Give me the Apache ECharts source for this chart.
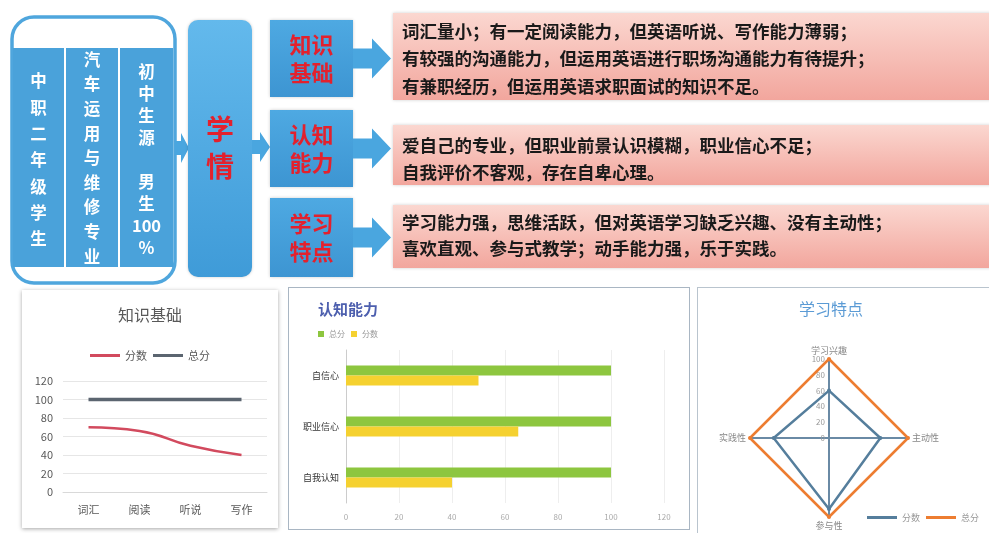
<!DOCTYPE html>
<html><head><meta charset="utf-8">
<script src="https://cdn.jsdelivr.net/npm/echarts@6/dist/echarts.min.js"></script>
<style>
html,body{margin:0;padding:0;background:#fff;width:989px;height:533px;overflow:hidden;}
#bg{position:absolute;left:0;top:0;width:989px;height:533px;}
#c1{position:absolute;left:22px;top:290px;width:256px;height:238px;box-shadow:0 1px 4px rgba(0,0,0,0.35);background:#fff;}
#c2{position:absolute;left:288px;top:287px;width:400px;height:241px;border:1px solid #a9b6c3;background:#fff;}
#c3{position:absolute;left:697px;top:287px;width:292px;height:246px;border-left:1px solid #b9c4ce;border-top:1px solid #b9c4ce;background:#fff;}
</style></head><body>
<div id="bg"></div><div id="c1"></div><div id="c2"></div><div id="c3"></div>
<script>
// ---- data ----
const profileColumns = ['中\n职\n二\n年\n级\n学\n生', '汽\n车\n运\n用\n与\n维\n修\n专\n业', '初\n中\n生\n源\n\n男\n生\n100\n%'];
const centerLabel = '学\n情';
const aspectLabels = ['知识\n基础', '认知\n能力', '学习\n特点'];
const aspectTexts = [
  '词汇量小；有一定阅读能力，但英语听说、写作能力薄弱；\n有较强的沟通能力，但运用英语进行职场沟通能力有待提升；\n有兼职经历，但运用英语求职面试的知识不足。',
  '爱自己的专业，但职业前景认识模糊，职业信心不足；\n自我评价不客观，存在自卑心理。',
  '学习能力强，思维活跃，但对英语学习缺乏兴趣、没有主动性；\n喜欢直观、参与式教学；动手能力强，乐于实践。'
];

const skillCategories = ['词汇', '阅读', '听说', '写作'];
const skillScores = [70, 66, 50, 40];
const skillTotals = [100, 100, 100, 100];

const cognitionCategories = ['自我认知', '职业信心', '自信心'];
const cognitionTotals = [100, 100, 100];
const cognitionScores = [40, 65, 50];

const learningIndicators = ['学习兴趣', '实践性', '参与性', '主动性'];
const learningScores = [60, 70, 90, 65];
const learningTotals = [100, 100, 100, 100];

const FONT = '"Noto Sans CJK SC", "Noto Sans", sans-serif';

// ---- top diagram ----
function vgrad(a, b) {
  return new echarts.graphic.LinearGradient(0, 0, 0, 1, [{offset: 0, color: a}, {offset: 1, color: b}]);
}
function arrow(x0, xh, x1, c, bh, hh) {
  return {type: 'polygon', shape: {points: [[x0, c - bh], [xh, c - bh], [xh, c - hh], [x1, c], [xh, c + hh], [xh, c + bh], [x0, c + bh]]},
    style: {fill: '#4aa6df'}};
}
const g = [];
g.push({type: 'rect', shape: {x: 12, y: 17, width: 163, height: 266, r: 22}, style: {fill: '#fff', stroke: '#4fa6dd', lineWidth: 3.5}});
const colX = [[13, 64], [66, 118], [120, 173]];
const colLH = [26.3, 24.6, 22];
const colC = [160, 158, 160];
profileColumns.forEach((t, i) => {
  g.push({type: 'rect', shape: {x: colX[i][0], y: 48, width: colX[i][1] - colX[i][0], height: 219}, style: {fill: '#4aa2da'}});
  g.push({type: 'text', style: {text: t, x: (colX[i][0] + colX[i][1]) / 2, y: colC[i], fill: '#fff', fontSize: 16.5, fontWeight: 'bold', fontFamily: FONT,
    align: 'center', verticalAlign: 'middle', lineHeight: colLH[i]}});
});
g.push(arrow(175, 181, 189, 148, 7, 15));
g.push({type: 'rect', shape: {x: 188, y: 20, width: 64, height: 257, r: 10}, style: {fill: vgrad('#63b9ec', '#3f9bd8'), shadowBlur: 3, shadowColor: 'rgba(0,0,0,0.2)'}});
g.push({type: 'text', style: {text: centerLabel, x: 220, y: 148, fill: '#e3212d', fontSize: 28, fontWeight: 'bold', fontFamily: FONT,
  align: 'center', verticalAlign: 'middle', lineHeight: 37}});
g.push(arrow(252, 260, 270, 147, 7, 15));
const boxY = [[20, 97], [110, 187], [198, 277]];
const panelY = [[13, 100], [125, 185], [205, 268]];
const textC = [58.5, 158.5, 235];
const textLH = [27.5, 27, 26];
aspectLabels.forEach((t, i) => {
  const [y0, y1] = boxY[i];
  const c = (y0 + y1) / 2;
  g.push({type: 'rect', shape: {x: 393, y: panelY[i][0], width: 600, height: panelY[i][1] - panelY[i][0]},
    style: {fill: vgrad('#fbd7d0', '#f2a69d'), shadowBlur: 3, shadowColor: 'rgba(0,0,0,0.2)'}});
  g.push({type: 'text', style: {text: aspectTexts[i], x: 402, y: textC[i], fill: '#1a1a1a', fontSize: 17.5, fontWeight: 'bold', fontFamily: FONT,
    align: 'left', verticalAlign: 'middle', lineHeight: textLH[i]}});
  g.push({type: 'rect', shape: {x: 270, y: y0, width: 83, height: y1 - y0}, style: {fill: vgrad('#4ea9e2', '#3d95d2'), shadowBlur: 3, shadowColor: 'rgba(0,0,0,0.2)'}});
  g.push({type: 'text', style: {text: t, x: 311.5, y: c, fill: '#e3212d', fontSize: 22, fontWeight: 'bold', fontFamily: FONT,
    align: 'center', verticalAlign: 'middle', lineHeight: 28}});
  g.push(arrow(353, 372, 391, c, 10, 20));
});
const bg = echarts.init(document.getElementById('bg'));
bg.setOption({graphic: g});

// ---- line chart ----
const c1 = echarts.init(document.getElementById('c1'));
c1.setOption({
  textStyle: {fontFamily: FONT},
  title: {text: '知识基础', left: 'center', top: 12, textStyle: {fontSize: 16, fontWeight: 'normal', color: '#595959', fontFamily: FONT}},
  legend: {top: 55, left: 'center', itemWidth: 30, itemHeight: 3, icon: 'rect', itemGap: 6, data: ['分数', '总分'], textStyle: {fontSize: 11, color: '#595959'}},
  grid: {left: 41, right: 11, top: 91, bottom: 36},
  xAxis: {type: 'category', data: skillCategories, axisLine: {lineStyle: {color: '#d9d9d9'}}, axisTick: {show: false},
    axisLabel: {color: '#595959', fontSize: 11, margin: 12}},
  yAxis: {type: 'value', min: 0, max: 120, interval: 20, axisLine: {show: false}, axisTick: {show: false},
    axisLabel: {color: '#595959', fontSize: 11, margin: 10}, splitLine: {lineStyle: {color: '#e6e6e6'}}},
  series: [
    {name: '分数', type: 'line', data: skillScores, smooth: true, symbol: 'none', lineStyle: {width: 2.5, color: '#d24a5e'}, itemStyle: {color: '#d24a5e'}},
    {name: '总分', type: 'line', data: skillTotals, symbol: 'none', lineStyle: {width: 3.5, color: '#5b6570'}, itemStyle: {color: '#5b6570'}}
  ]
});

// ---- bar chart ----
const c2 = echarts.init(document.getElementById('c2'));
c2.setOption({
  textStyle: {fontFamily: FONT},
  title: {text: '认知能力', left: 24, top: 9, textStyle: {fontSize: 15, fontWeight: 'bold', color: '#4d5fae', fontFamily: FONT}},
  legend: {left: 24, top: 37, itemWidth: 6, itemHeight: 6, icon: 'rect', itemGap: 6, data: ['总分', '分数'], textStyle: {fontSize: 8, color: '#999'}},
  grid: {left: 57, right: 25, top: 62, bottom: 26},
  xAxis: {type: 'value', min: 0, max: 120, interval: 20, axisLine: {show: false}, axisTick: {show: false},
    axisLabel: {color: '#aaa', fontSize: 8, margin: 10}, splitLine: {lineStyle: {color: '#eeeeee'}}},
  yAxis: {type: 'category', data: cognitionCategories, axisLine: {lineStyle: {color: '#cccccc'}}, axisTick: {show: false},
    axisLabel: {color: '#333', fontSize: 9, margin: 7}},
  series: [
    {name: '总分', type: 'bar', data: cognitionTotals, barWidth: 10, barGap: '0%', itemStyle: {color: '#8dc63f'}},
    {name: '分数', type: 'bar', data: cognitionScores, barWidth: 10, barGap: '0%', itemStyle: {color: '#f5d130'}}
  ]
});

// ---- radar chart ----
const c3 = echarts.init(document.getElementById('c3'));
c3.setOption({
  textStyle: {fontFamily: FONT},
  title: {text: '学习特点', left: 96, top: 8, textStyle: {fontSize: 16, fontWeight: 'normal', color: '#5b9bd5', fontFamily: FONT}},
  legend: {right: 6, bottom: 7, itemWidth: 30, itemHeight: 3, icon: 'rect', itemGap: 6, data: ['分数', '总分'], textStyle: {fontSize: 9, color: '#999'}},
  radar: {
    center: [131, 150], radius: 79, shape: 'polygon', splitNumber: 5, startAngle: 90,
    indicator: learningIndicators.map((n, i) => i === 0 ? {name: n, max: 100} : {name: n, max: 100, axisLabel: {show: false}}),
    axisName: {color: '#888', fontSize: 9}, nameGap: 4,
    splitLine: {show: false}, splitArea: {show: false},
    axisLine: {lineStyle: {color: '#6a8aa5', width: 2}},
    axisLabel: {show: true, fontSize: 8, color: '#999', margin: 4}
  },
  series: [
    {name: '分数', type: 'radar', symbol: 'circle', symbolSize: 4, data: [{name: '分数', value: learningScores}],
      lineStyle: {color: '#557e9c', width: 2.5}, itemStyle: {color: '#557e9c'}},
    {name: '总分', type: 'radar', symbol: 'circle', symbolSize: 4, data: [{name: '总分', value: learningTotals}],
      lineStyle: {color: '#ed7d31', width: 2.5}, itemStyle: {color: '#ed7d31'}}
  ]
});
</script>
</body></html>
